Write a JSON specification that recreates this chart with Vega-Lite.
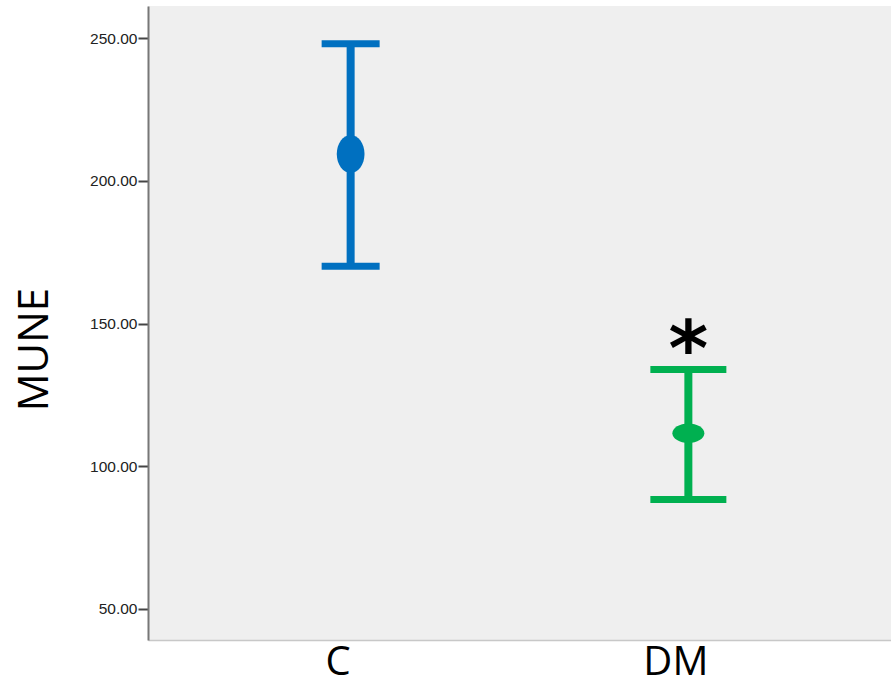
{
  "$schema": "https://vega.github.io/schema/vega-lite/v6.json",
  "width": 743,
  "height": 634,
  "autosize": {"type": "none"},
  "padding": {"left": 148, "top": 6, "right": 0, "bottom": 46},
  "background": "white",
  "config": {
    "view": {"fill": "#efefef", "stroke": null},
    "axis": {"grid": false}
  },
  "data": {
    "values": [
      {"group": "C", "mean": 209.4, "lower": 170.1, "upper": 248.1, "note": ""},
      {"group": "DM", "mean": 111.6, "lower": 88.3, "upper": 133.9, "note": "*"}
    ]
  },
  "encoding": {
    "x": {
      "field": "group",
      "type": "nominal",
      "scale": {"type": "point", "domain": ["C", "DM"], "padding": 0.6},
      "axis": {
        "title": null,
        "ticks": false,
        "labelAngle": 0,
        "labelFont": "Open Sans",
        "labelFontSize": 40,
        "labelColor": "black",
        "labelPadding": 2,
        "labelOffset": -13,
        "domainColor": "#c8c8c8",
        "domainWidth": 1.5
      }
    },
    "color": {
      "field": "group",
      "type": "nominal",
      "scale": {"domain": ["C", "DM"], "range": ["#0070c0", "#00b050"]},
      "legend": null
    }
  },
  "layer": [
    {
      "mark": {"type": "rule", "strokeWidth": 8},
      "encoding": {
        "y": {
          "field": "lower",
          "type": "quantitative",
          "scale": {"domain": [39.1, 261.3], "nice": false, "zero": false},
          "axis": {
            "title": "MUNE",
            "values": [50, 100, 150, 200, 250],
            "format": ".2f",
            "labelFont": "Liberation Sans",
            "labelFontSize": 15.5,
            "labelColor": "#222222",
            "labelPadding": 1,
            "tickSize": 10,
            "tickWidth": 2,
            "tickColor": "#444444",
            "domainColor": "#777777",
            "domainWidth": 2,
            "titleFont": "Open Sans",
            "titleFontSize": 42,
            "titleFontWeight": "normal",
            "titleColor": "black",
            "titleAngle": -90,
            "titleX": -114,
            "titleY": 343,
            "titleAlign": "center",
            "titleBaseline": "middle"
          }
        },
        "y2": {"field": "upper"}
      }
    },
    {
      "mark": {"type": "tick", "thickness": 7, "opacity": 1},
      "encoding": {
        "y": {"field": "upper", "type": "quantitative"},
        "size": {
          "field": "group",
          "type": "nominal",
          "scale": {"domain": ["C", "DM"], "range": [58, 76]},
          "legend": null
        }
      }
    },
    {
      "mark": {"type": "tick", "thickness": 7, "opacity": 1},
      "encoding": {
        "y": {"field": "lower", "type": "quantitative"},
        "size": {
          "field": "group",
          "type": "nominal",
          "scale": {"domain": ["C", "DM"], "range": [58, 76]},
          "legend": null
        }
      }
    },
    {
      "mark": {"type": "point", "filled": true, "opacity": 1, "strokeWidth": 0},
      "encoding": {
        "y": {"field": "mean", "type": "quantitative"},
        "shape": {
          "field": "group",
          "type": "nominal",
          "scale": {
            "domain": ["C", "DM"],
            "range": [
              "M -0.73 0 A 0.73 1 0 1 0 0.73 0 A 0.73 1 0 1 0 -0.73 0 Z",
              "M -1 0 A 1 0.606 0 1 0 1 0 A 1 0.606 0 1 0 -1 0 Z"
            ]
          },
          "legend": null
        },
        "size": {
          "field": "group",
          "type": "nominal",
          "scale": {"domain": ["C", "DM"], "range": [1444, 1024]},
          "legend": null
        }
      }
    },
    {
      "mark": {
        "type": "text",
        "font": "DejaVu Sans",
        "fontWeight": "bold",
        "fontSize": 76,
        "color": "black",
        "baseline": "middle",
        "align": "center",
        "dy": -18
      },
      "encoding": {
        "y": {"field": "upper", "type": "quantitative"},
        "text": {"field": "note"},
        "color": {"value": "black"}
      }
    }
  ],
  "resolve": {"scale": {"size": "independent", "shape": "independent"}}
}
